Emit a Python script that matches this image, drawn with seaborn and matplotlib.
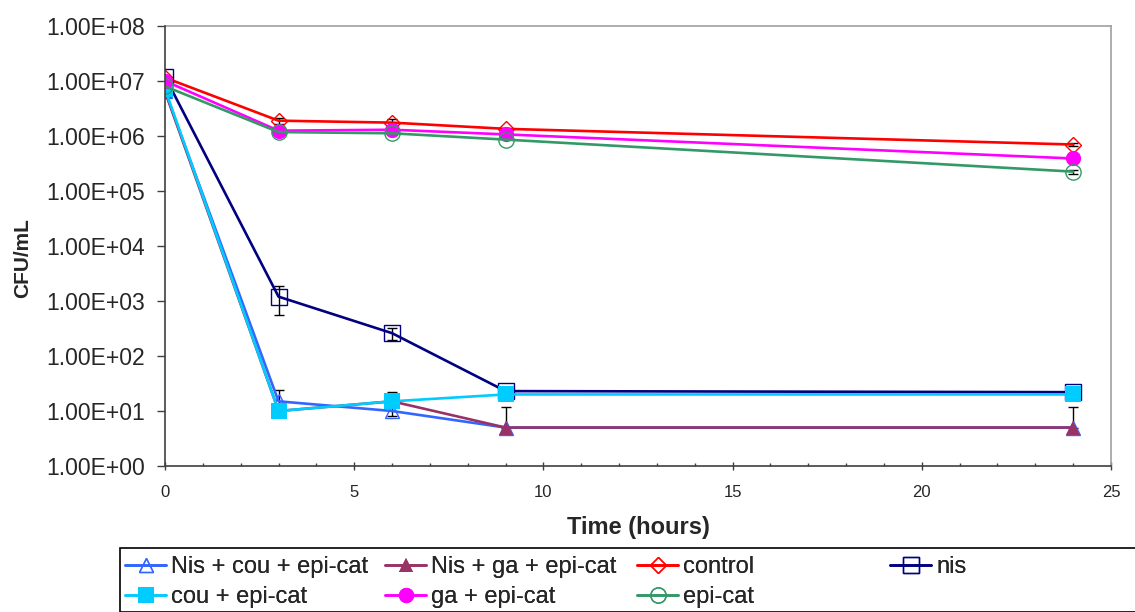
import numpy as np
import pandas as pd
import matplotlib
matplotlib.use("Agg")
import matplotlib.pyplot as plt
from matplotlib.ticker import FuncFormatter, MultipleLocator, FixedLocator
from matplotlib.patches import Rectangle
from matplotlib.lines import Line2D
import seaborn as sns

# ---------------- data ----------------
time_h = [0, 3, 6, 9, 24]

series_names = ["Nis + cou + epi-cat", "Nis + ga + epi-cat", "control", "nis",
                "cou + epi-cat", "ga + epi-cat", "epi-cat"]

nis_cou_epi = [6.5e6, 15, 10, 5, 5]
nis_ga_epi = [6.5e6, 10, 15, 5, 5]
control = [1.15e7, 1.9e6, 1.75e6, 1.35e6, 7.0e5]
nis = [1.2e7, 1.2e3, 2.6e2, 23, 22]
cou_epi = [7.2e6, 10, 15, 20, 20]
ga_epi = [1.0e7, 1.25e6, 1.3e6, 1.07e6, 3.9e5]
epi_cat = [8.0e6, 1.18e6, 1.12e6, 8.6e5, 2.25e5]

nis_cou_epi_err = [0, 0, 0, 0, 0]
nis_ga_epi_err = [0, 0, 7, 7, 7]
control_err = [0, 2.5e5, 2.5e5, 0, 5e4]
nis_err = [0, 650, 65, 0, 0]
cou_epi_err = [0, 14, 0, 0, 0]
ga_epi_err = [0, 0, 0, 0, 0]
epi_cat_err = [0, 0, 0, 0, 2e4]

values = [nis_cou_epi, nis_ga_epi, control, nis, cou_epi, ga_epi, epi_cat]
errors = [nis_cou_epi_err, nis_ga_epi_err, control_err, nis_err,
          cou_epi_err, ga_epi_err, epi_cat_err]

colors = ["#3366FF", "#993366", "#FF0000", "#000080", "#00CCFF", "#FF00FF", "#339966"]
markers = ["^", "^", "D", "s", "s", "o", "o"]
filled = [False, True, False, False, True, True, False]
msizes = [10, 10, 8.5, 12, 11, 11, 11]

y_ticks = [1e0, 1e1, 1e2, 1e3, 1e4, 1e5, 1e6, 1e7, 1e8]

# ---------------- figure ----------------
sns.set_theme(style="white")
plt.rcParams["font.family"] = ["Liberation Sans", "DejaVu Sans"]

fig = plt.figure(figsize=(11.35, 6.12), dpi=100)
ax = fig.add_axes([165 / 1135, 1 - 466 / 612, (1111 - 165) / 1135, (466 - 26) / 612])

handles = []
for name, vals, errs, c, m, f, ms in zip(series_names, values, errors, colors,
                                          markers, filled, msizes):
    df = pd.DataFrame({"time": time_h, "cfu": vals})
    sns.lineplot(data=df, x="time", y="cfu", ax=ax, color=c, linewidth=1.9,
                 marker=m, markersize=ms,
                 markerfacecolor=c if f else "none",
                 markeredgecolor=c, markeredgewidth=1.0 if not f else 0.0,
                 zorder=3, legend=False)
    v = np.array(vals, dtype=float)
    e = np.array(errs, dtype=float)
    lower = np.where(v - e > 0, e, 0.0)
    mask = e > 0
    if mask.any():
        ax.errorbar(np.array(time_h)[mask], v[mask],
                    yerr=[lower[mask], e[mask]], fmt="none", ecolor="black",
                    elinewidth=1.0, capsize=3.3, capthick=1.0, zorder=2.5)
    handles.append(Line2D([], [], color=c, linewidth=1.9, marker=m, markersize=ms,
                          markerfacecolor=c if f else "none", markeredgecolor=c,
                          markeredgewidth=1.0 if not f else 0.0))

ax.set_yscale("log")
ax.set_ylim(1, 1e8)
ax.set_xlim(0, 25)
ax.yaxis.set_major_locator(FixedLocator(y_ticks))
ax.yaxis.set_minor_locator(FixedLocator([]))
ax.yaxis.set_major_formatter(FuncFormatter(lambda v, p: f"{v:.2E}"))
ax.xaxis.set_major_locator(MultipleLocator(5))
ax.xaxis.set_minor_locator(MultipleLocator(1))

for s in ["left", "bottom"]:
    ax.spines[s].set_color("#404040")
    ax.spines[s].set_linewidth(1.2)
for s in ["top", "right"]:
    ax.spines[s].set_color("#A0A0A0")
    ax.spines[s].set_linewidth(1.2)
ax.spines["left"].set_zorder(5)

ax.tick_params(axis="y", which="major", direction="out", length=5.5, width=1,
               color="#404040", pad=9, labelsize=16.5, left=True)
ax.tick_params(axis="x", which="major", direction="inout", length=6, width=1,
               color="#404040", pad=11, labelsize=12, bottom=True)
ax.tick_params(axis="x", which="minor", direction="in", length=2.5, width=1,
               color="#404040", bottom=True)

ax.set_xlabel("Time (hours)", fontsize=17, fontweight="bold", labelpad=11)
ax.set_ylabel("CFU/mL", fontsize=15, fontweight="bold")
ax.yaxis.set_label_coords(-133 / 946, (466 - 258) / 440)

# legend frame
fig.patches.append(Rectangle((120 / 1135, 0), 1.2, 1 - 548 / 612,
                             transform=fig.transFigure, fill=False,
                             edgecolor="black", linewidth=1.2, clip_on=False))

col_x = [125, 385, 637, 890]
cols = [[0, 4], [1, 5], [2, 6], [3]]
for cx, idx in zip(col_x, cols):
    leg = fig.legend([handles[i] for i in idx], [series_names[i] for i in idx],
                     loc="upper left", bbox_to_anchor=(cx / 1135, 1 - 556 / 612),
                     bbox_transform=fig.transFigure, frameon=False,
                     fontsize=17, handlelength=1.75, handletextpad=0.2,
                     borderpad=0, borderaxespad=0, labelspacing=0.35)
    fig.add_artist(leg)

fig.savefig("out.png", dpi=100)
